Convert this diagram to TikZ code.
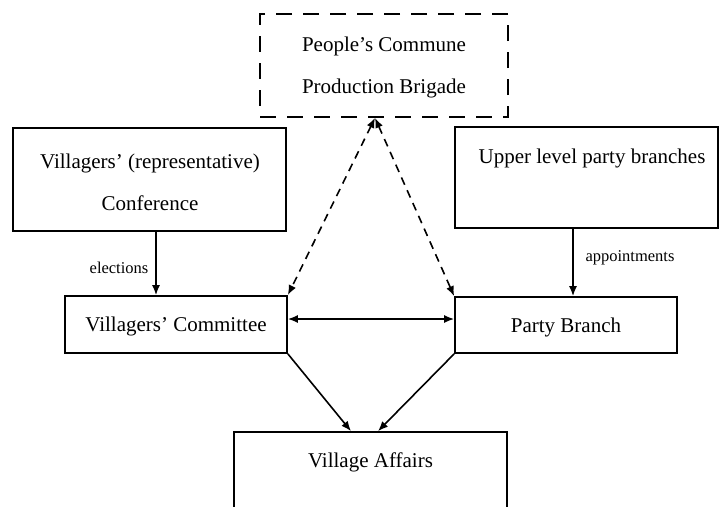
\documentclass[tikz,border=0pt]{standalone}
\usepackage{fontspec}
\setmainfont{Liberation Serif}
\usetikzlibrary{arrows.meta}
\begin{document}
\begin{tikzpicture}[x=1pt,y=-1pt,
  box/.style={draw,line width=1.7pt,inner sep=0pt},
  dbox/.style={box,dash pattern=on 16pt off 11pt},
  txt/.style={align=center,inner sep=0pt,font=\fontsize{21}{42}\selectfont},
  lbl/.style={inner sep=0pt,font=\fontsize{16.5}{20}\selectfont},
  arr/.style={line width=1.6pt,-{Latex[length=10pt,width=8pt]}},
  darr/.style={line width=1.6pt,dash pattern=on 8pt off 6pt,{Latex[length=10pt,width=8pt]}-{Latex[length=10pt,width=8pt]}},
  barr/.style={line width=1.6pt,{Latex[length=10pt,width=8pt]}-{Latex[length=10pt,width=8pt]}}]
\useasboundingbox (0,0) rectangle (719,506);
\clip (0,0) rectangle (719,506);
% boxes
\node[dbox,minimum width=248pt,minimum height=103pt] (pc) at (384,65.5) {};
\node[box,minimum width=273pt,minimum height=103pt] (conf) at (149.5,179.5) {};
\node[box,minimum width=263pt,minimum height=101pt] (up) at (586.5,177.5) {};
\node[box,minimum width=222pt,minimum height=57pt] (vc) at (176,324.5) {};
\node[box,minimum width=222pt,minimum height=56pt] (pb) at (566,325) {};
\node[box,minimum width=273pt,minimum height=108pt] (va) at (370.5,486) {};
% texts
\node[txt] (pct) at (384,67) {People’s Commune\\Production Brigade};
\node[txt] (conft) at (150,182) {Villagers’ (representative)\\Conference};
\node[txt] (upt) at (592,158) {Upper level party branches};
\node[txt] (vct) at (176,326) {Villagers’ Committee};
\node[txt] (pbt) at (566,327) {Party Branch};
\node[txt] (vat) at (370.5,462) {Village Affairs};
% labels
\node[lbl] (el) at (119,268) {elections};
\node[lbl] (ap) at (630,258) {appointments};
% connectors
\coordinate (ex) at (156,0);
\coordinate (axc) at (573,0);
\draw[arr] (conf.south -| ex) -- (vc.north -| ex);
\draw[arr] (up.south -| axc) -- (pb.north -| axc);
\draw[darr] ([xshift=-9pt]pc.south) -- (vc.north east);
\draw[darr] ([xshift=-9pt]pc.south) -- (pb.north west);
\draw[barr] ([yshift=5.5pt]vc.east) -- ([yshift=6pt]pb.west);
\draw[arr] (vc.south east) -- ([xshift=-19.5pt]va.north);
\draw[arr] (pb.south west) -- ([xshift=7.5pt]va.north);
\end{tikzpicture}
\end{document}
